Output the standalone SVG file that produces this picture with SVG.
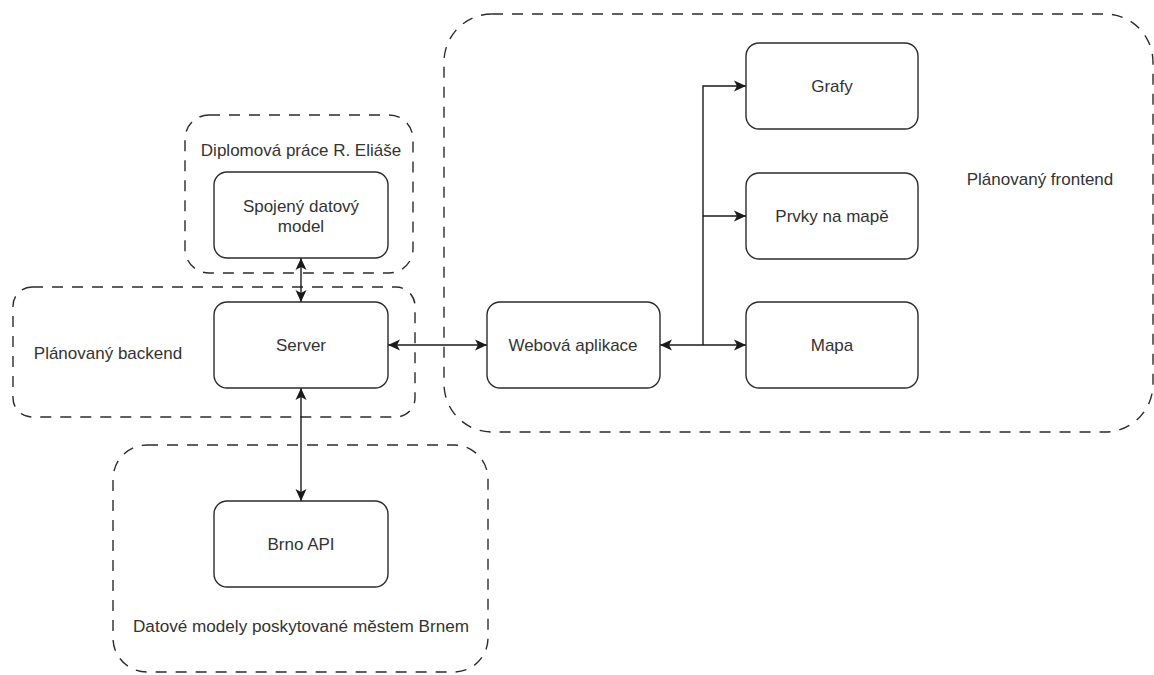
<svg xmlns="http://www.w3.org/2000/svg" width="1154" height="675" viewBox="0 0 1154 675">
<defs>
<style>
.box{fill:#fff;stroke:#2b2b2b;stroke-width:1.4}
.grp{fill:none;stroke:#2b2b2b;stroke-width:1.4;stroke-dasharray:11 9}
.lbl{font-family:"Liberation Sans",Arial,Helvetica,sans-serif;font-size:17px;fill:#333;text-anchor:middle}
.edge{fill:none;stroke:#1a1a1a;stroke-width:1.4}
</style>
<marker id="arr" markerUnits="userSpaceOnUse" markerWidth="14" markerHeight="12" refX="12" refY="6" orient="auto-start-reverse">
<path d="M0,0.5 L12,6 L0,11.5 L3,6 Z" fill="#1a1a1a"/>
</marker>
</defs>
<rect width="1154" height="675" fill="#fff"/>

<g id="grp-frontend">
<rect class="grp" x="444" y="14" width="709" height="418" rx="48" ry="48"/>
<text class="lbl" x="1040" y="185">Plánovaný frontend</text>
</g>
<g id="grp-diplomova">
<rect class="grp" x="185" y="115" width="228" height="158" rx="24" ry="24"/>
<text class="lbl" x="301" y="156">Diplomová práce R. Eliáše</text>
</g>
<g id="grp-backend">
<rect class="grp" x="13" y="287" width="402" height="130" rx="19" ry="19"/>
<text class="lbl" x="108" y="359">Plánovaný backend</text>
</g>
<g id="grp-brno">
<rect class="grp" x="113" y="445" width="375" height="227" rx="34" ry="34"/>
<text class="lbl" x="301" y="632" style="font-size:16px" textLength="336" lengthAdjust="spacingAndGlyphs">Datové modely poskytované městem Brnem</text>
</g>

<g id="connectors">
<line class="edge" x1="301" y1="258" x2="301" y2="302" marker-start="url(#arr)" marker-end="url(#arr)"/>
<line class="edge" x1="301" y1="388" x2="301" y2="501" marker-start="url(#arr)" marker-end="url(#arr)"/>
<line class="edge" x1="388" y1="345" x2="487" y2="345" marker-start="url(#arr)" marker-end="url(#arr)"/>
<line class="edge" x1="660" y1="345" x2="746" y2="345" marker-start="url(#arr)" marker-end="url(#arr)"/>
<polyline class="edge" points="703,345 703,86 746,86" marker-end="url(#arr)"/>
<line class="edge" x1="703" y1="216" x2="746" y2="216" marker-end="url(#arr)"/>
</g>

<g id="node-spojeny">
<rect class="box" x="214" y="172" width="174" height="86" rx="13" ry="13"/>
<text class="lbl" x="301" y="212">Spojený datový</text>
<text class="lbl" x="301" y="232">model</text>
</g>
<g id="node-server">
<rect class="box" x="214" y="302" width="174" height="86" rx="13" ry="13"/>
<text class="lbl" x="301" y="351">Server</text>
</g>
<g id="node-brno">
<rect class="box" x="214" y="501" width="174" height="86" rx="13" ry="13"/>
<text class="lbl" x="301" y="550">Brno API</text>
</g>
<g id="node-webova">
<rect class="box" x="487" y="302" width="173" height="86" rx="13" ry="13"/>
<text class="lbl" x="573" y="351">Webová aplikace</text>
</g>
<g id="node-grafy">
<rect class="box" x="746" y="43" width="172" height="86" rx="13" ry="13"/>
<text class="lbl" x="832" y="92">Grafy</text>
</g>
<g id="node-prvky">
<rect class="box" x="746" y="173" width="172" height="86" rx="13" ry="13"/>
<text class="lbl" x="832" y="222">Prvky na mapě</text>
</g>
<g id="node-mapa">
<rect class="box" x="746" y="302" width="172" height="86" rx="13" ry="13"/>
<text class="lbl" x="832" y="351">Mapa</text>
</g>
</svg>
